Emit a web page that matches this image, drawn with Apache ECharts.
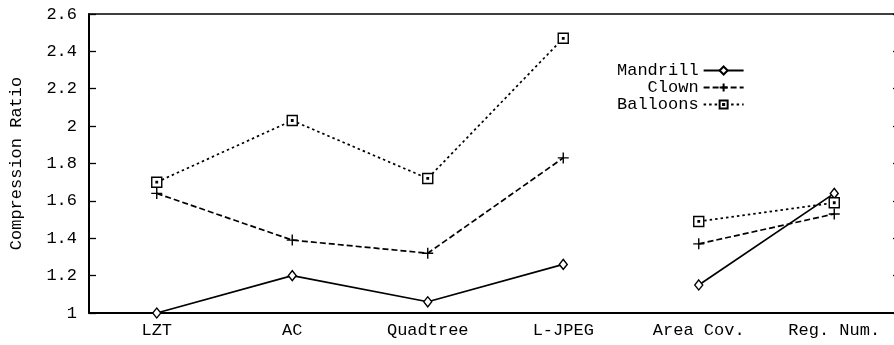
<!DOCTYPE html>
<html>
<head>
<meta charset="utf-8">
<script src="https://cdn.jsdelivr.net/npm/echarts@6/dist/echarts.min.js"></script>
<style>
  html, body { margin: 0; padding: 0; background: #fff; overflow: hidden; }
  /* the frame runs a little past the right edge of the page */
  #chart { width: 910px; height: 345px; }
</style>
</head>
<body>
<div id="chart"></div>
<script>
// Methods compared on the x axis
const methods = ['LZT', 'AC', 'Quadtree', 'L-JPEG', 'Area Cov.', 'Reg. Num.'];
// Y axis ticks
const yTicks = [1, 1.2, 1.4, 1.6, 1.8, 2, 2.2, 2.4, 2.6];

// Compression ratios per image (first four methods, then the two region methods)
const mandrill = [1.00, 1.20, 1.06, 1.26, 1.15, 1.64];
const clown    = [1.64, 1.39, 1.32, 1.83, 1.37, 1.53];
const balloons = [1.70, 2.03, 1.72, 2.47, 1.49, 1.59];

// The two groups of methods are drawn as separate polylines
const firstGroup = 4;
const part = (arr, first) => arr.map((v, i) => (first ? i < firstGroup : i >= firstGroup) ? v : null);

const FONT = 'Liberation Mono';
const SYM_PLUS = 'path://M5,0L5,10M0,5L10,5';
const SYM_BOXDOT = 'path://M0,0L10,0L10,10L0,10Z M4.3,4.3L5.7,4.3L5.7,5.7L4.3,5.7Z';

const styles = {
  Mandrill: { symbol: 'diamond', symbolSize: [8, 10], dash: 'solid' },
  Clown:    { symbol: SYM_PLUS, symbolSize: 11, dash: [6, 3] },
  Balloons: { symbol: SYM_BOXDOT, symbolSize: 10, dash: [2.5, 3] }
};

function makeSeries(name, values, first) {
  const s = styles[name];
  return {
    name: name,
    type: 'line',
    xAxisIndex: 0,
    yAxisIndex: 0,
    data: part(values, first),
    connectNulls: false,
    symbol: s.symbol,
    symbolSize: s.symbolSize,
    showAllSymbol: true,
    animation: false,
    lineStyle: { color: '#000', width: 1.7, type: s.dash },
    itemStyle: { color: '#fff', borderColor: '#000', borderWidth: 1.4 },
    emphasis: { disabled: true },
    z: 3
  };
}

const series = [];
[['Mandrill', mandrill], ['Clown', clown], ['Balloons', balloons]].forEach(([n, v]) => {
  series.push(makeSeries(n, v, true));
  series.push(makeSeries(n, v, false));
});

const chart = echarts.init(document.getElementById('chart'), null, { renderer: 'canvas' });

const axisText = { color: '#000', fontFamily: FONT, fontSize: 17 };

chart.setOption({
  backgroundColor: '#fff',
  animation: false,
  grid: { left: 87, top: 14, right: 8, bottom: 32, containLabel: false },
  legend: {
    orient: 'vertical',
    left: 612,
    top: 57,
    align: 'right',
    itemWidth: 40,
    itemHeight: 10,
    itemGap: 0,
    data: ['Mandrill', 'Clown', 'Balloons'],
    textStyle: { color: '#000', fontFamily: FONT, fontSize: 17, lineHeight: 16, padding: [0, 0, 0, 0] },
    selectedMode: false
  },
  xAxis: [
    {
      type: 'category',
      data: methods,
      position: 'bottom',
      boundaryGap: true,
      axisLine: { lineStyle: { color: '#000', width: 2 } },
      axisTick: { inside: true, alignWithLabel: true, length: 7, lineStyle: { color: '#000', width: 1.3 } },
      axisLabel: Object.assign({ margin: 9 }, axisText),
      splitLine: { show: false }
    },
    {
      type: 'category',
      data: methods,
      position: 'top',
      boundaryGap: true,
      axisLine: { lineStyle: { color: '#000', width: 1.5 } },
      axisTick: { inside: true, alignWithLabel: true, length: 7, lineStyle: { color: '#000', width: 1.3 } },
      axisLabel: { show: false },
      splitLine: { show: false }
    }
  ],
  yAxis: [
    {
      type: 'value',
      min: yTicks[0],
      max: yTicks[yTicks.length - 1],
      interval: 0.2,
      position: 'left',
      name: 'Compression Ratio',
      nameLocation: 'middle',
      nameGap: 64,
      nameTextStyle: axisText,
      axisLine: { show: true, lineStyle: { color: '#000', width: 2 } },
      axisTick: { show: true, inside: true, length: 7, lineStyle: { color: '#000', width: 1.3 } },
      axisLabel: Object.assign({ margin: 12, formatter: v => String(+v.toFixed(1)) }, axisText),
      splitLine: { show: false }
    },
    {
      type: 'value',
      min: yTicks[0],
      max: yTicks[yTicks.length - 1],
      interval: 0.2,
      position: 'right',
      axisLine: { show: true, lineStyle: { color: '#000', width: 1.5 } },
      axisTick: { show: true, inside: true, length: 9, lineStyle: { color: '#000', width: 1.3 } },
      axisLabel: { show: false },
      splitLine: { show: false }
    }
  ],
  series: series
});
</script>
</body>
</html>
